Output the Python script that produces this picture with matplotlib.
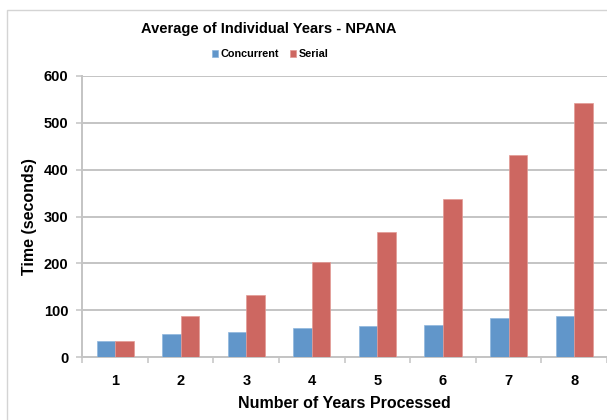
import numpy as np
import matplotlib
matplotlib.use("Agg")
import matplotlib.pyplot as plt
from matplotlib.patches import Rectangle

plt.rcParams["font.family"] = ["Liberation Sans", "DejaVu Sans"]
plt.rcParams["font.weight"] = "bold"

YEARS = ["1", "2", "3", "4", "5", "6", "7", "8"]
CONCURRENT = [35, 49, 53, 62, 66, 69, 83, 87]
SERIAL = [35, 89, 133, 204, 268, 337, 432, 542]

BLUE = "#6196ca"
RED = "#cd6761"
GRID = "#c4c4c4"


def main():
    fig = plt.figure(figsize=(6.07, 4.20), dpi=100)
    # outer chart frame
    fig.patches.append(Rectangle((7 / 607, -0.1), 1.2, 1 - 10 / 420 + 0.1,
                                 transform=fig.transFigure, fill=False,
                                 ec="#d4d4d4", lw=1.0))
    ax = fig.add_axes([82.3 / 607, 1 - 357.3 / 420, 1 - 82.3 / 607,
                       (357.3 - 75.7) / 420])
    x = np.arange(len(YEARS))
    w = 0.283
    ax.bar(x - w / 2, CONCURRENT, w, color=BLUE, ec="#8fb6dd", lw=0.5,
           label="Concurrent", zorder=3)
    ax.bar(x + w / 2, SERIAL, w, color=RED, ec="#e39a95", lw=0.5,
           label="Serial", zorder=3)

    ax.set_xlim(-0.5, len(YEARS) - 0.5)
    ax.set_ylim(0, 600)
    ax.set_yticks(np.arange(0, 601, 100))
    ax.set_xticks(x)
    ax.set_xticklabels(YEARS)
    ax.set_xticks(np.arange(-0.5, len(YEARS)), minor=True)
    ax.tick_params(axis="x", which="major", length=0, pad=12, labelsize=10.5)
    ax.tick_params(axis="x", which="minor", length=4, color=GRID, width=1.1)
    ax.tick_params(axis="y", length=4, color=GRID, width=1.1, pad=6,
                   labelsize=10.5)
    ax.yaxis.grid(True, color=GRID, lw=1.4, zorder=0)
    for s in ["top", "right"]:
        ax.spines[s].set_visible(False)
    for s in ["left", "bottom"]:
        ax.spines[s].set_color(GRID)
        ax.spines[s].set_linewidth(1.4)

    ax.set_xlabel("Number of Years Processed", fontsize=11.5,
                  fontweight="bold", labelpad=6)
    ax.set_ylabel("Time (seconds)", fontsize=11.5, fontweight="bold",
                  labelpad=5)
    fig.text(269 / 607, 1 - 29 / 420, "Average of Individual Years - NPANA",
             ha="center", va="center", fontsize=10.5, fontweight="bold")
    fig.legend(loc="center", bbox_to_anchor=(270 / 607, 1 - 54 / 420),
               ncol=2, frameon=False, fontsize=7.8, handlelength=0.6,
               handleheight=0.6, handletextpad=0.2, columnspacing=1.0)

    fig.savefig("out.png", dpi=100)


if __name__ == "__main__":
    main()
